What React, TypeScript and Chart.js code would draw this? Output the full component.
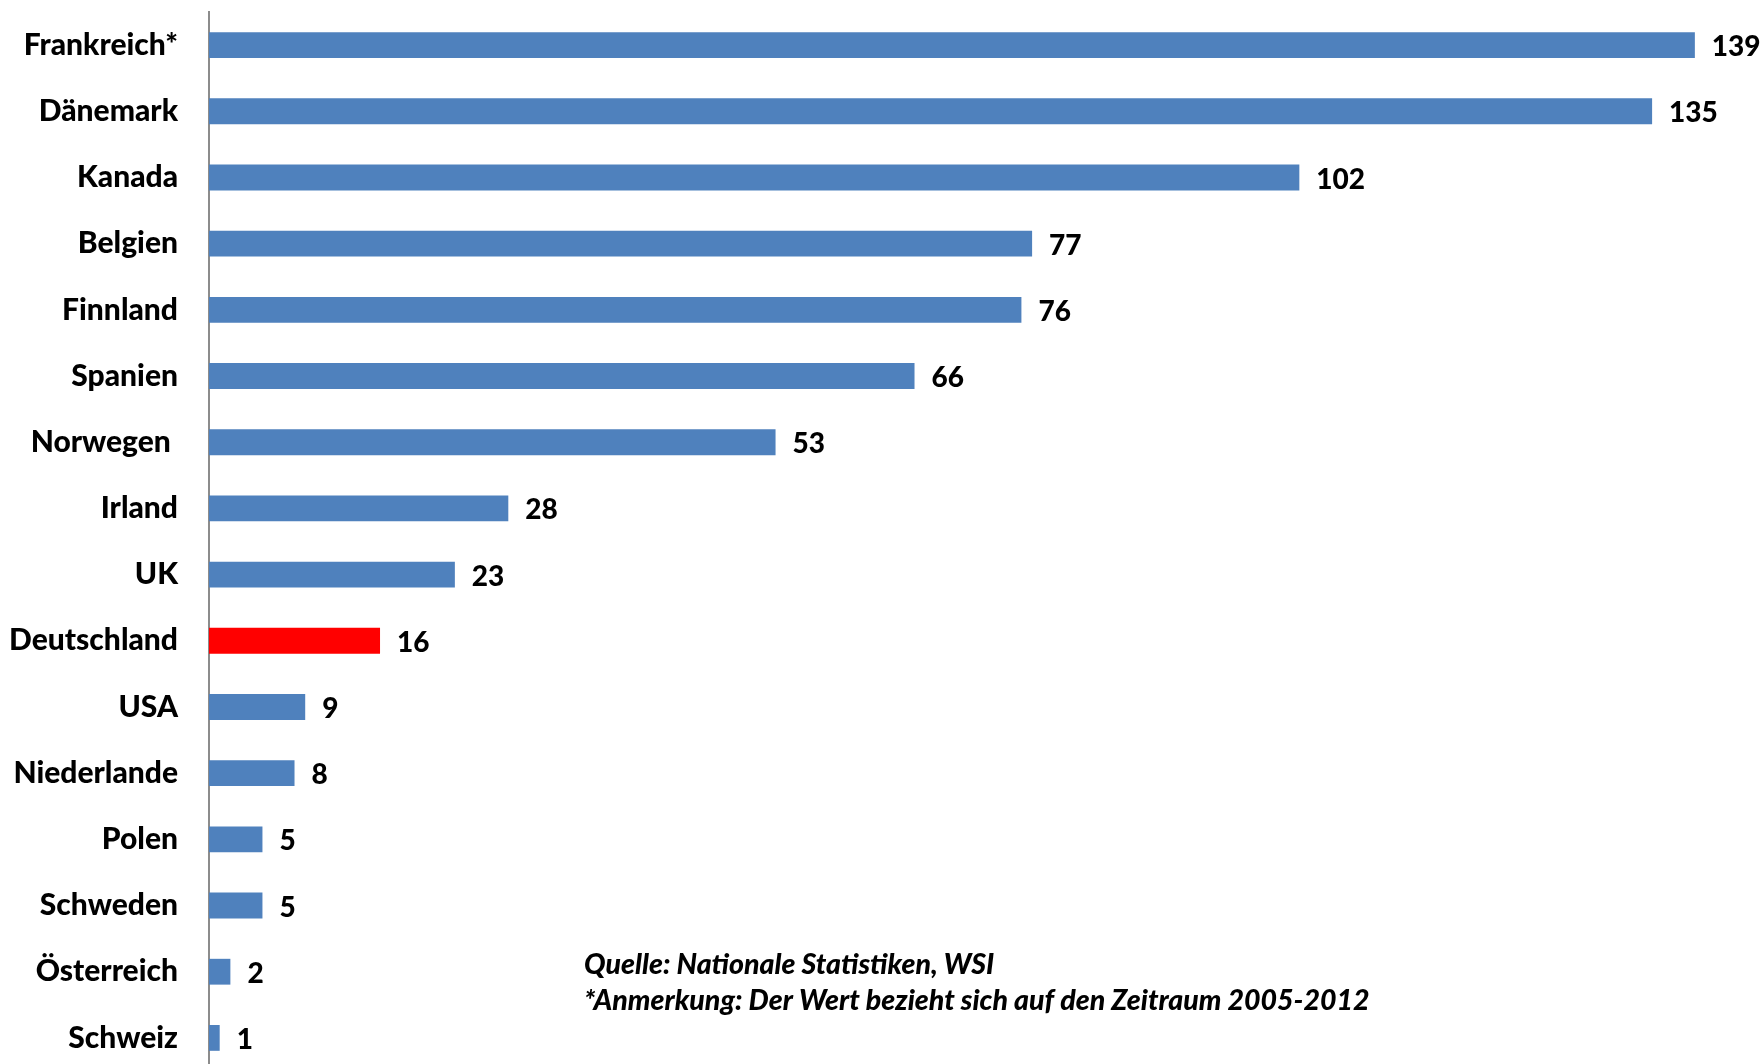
import React, { useEffect, useRef } from "react";
import { Chart, registerables } from "chart.js";

Chart.register(...registerables);

const categories: string[] = [
  "Frankreich*", "Dänemark", "Kanada", "Belgien", "Finnland", "Spanien", "Norwegen ",
  "Irland", "UK", "Deutschland", "USA", "Niederlande", "Polen", "Schweden", "Österreich", "Schweiz",
];
const values: number[] = [139, 135, 102, 77, 76, 66, 53, 28, 23, 16, 9, 8, 5, 5, 2, 1];
const highlight = "Deutschland";
const noteLines: string[] = [
  "Quelle: Nationale Statistiken, WSI",
  "*Anmerkung: Der Wert bezieht sich auf den Zeitraum 2005-2012",
];

const FONT = "Lato, 'Open Sans', sans-serif";

const textLabels = {
  id: "textLabels",
  afterDatasetsDraw(chart: any) {
    const ctx = chart.ctx;
    const meta = chart.getDatasetMeta(0);
    const yScale = chart.scales.y;
    ctx.save();
    ctx.fillStyle = "#000";
    ctx.textBaseline = "middle";
    // category labels
    ctx.font = `900 30px ${FONT}`;
    ctx.textAlign = "right";
    categories.forEach((c, i) => {
      ctx.fillText(c, yScale.right - 31, yScale.getPixelForValue(i));
    });
    // value labels
    ctx.font = `900 28px ${FONT}`;
    ctx.textAlign = "left";
    meta.data.forEach((bar: any, i: number) => {
      ctx.fillText(String(values[i]), bar.x + 17, bar.y + 2);
    });
    ctx.restore();
  },
};

const footnote = {
  id: "footnote",
  afterDraw(chart: any) {
    const ctx = chart.ctx;
    ctx.save();
    ctx.font = `italic 900 28.5px ${FONT}`;
    ctx.fillStyle = "#000";
    ctx.textAlign = "left";
    ctx.textBaseline = "middle";
    ctx.fillText(noteLines[0], 584, 965);
    ctx.fillText(noteLines[1], 584, 1001);
    ctx.restore();
  },
};

export default function App() {
  const ref = useRef<HTMLCanvasElement>(null);
  useEffect(() => {
    if (!ref.current) return;
    const chart = new Chart(ref.current, {
      type: "bar",
      data: {
        labels: categories,
        datasets: [
          {
            data: values,
            backgroundColor: categories.map((c) => (c === highlight ? "#FF0000" : "#4F81BD")),
            borderWidth: 0,
            barPercentage: 0.39,
            categoryPercentage: 1,
          },
        ],
      },
      options: {
        indexAxis: "y",
        responsive: false,
        animation: false,
        devicePixelRatio: 1,
        layout: { padding: { top: 12, right: 5, bottom: 0, left: 0 } },
        plugins: {
          legend: { display: false },
          tooltip: { enabled: false },
        },
        scales: {
          x: { display: false, min: 0, max: 145 },
          y: {
            grid: { display: false, drawTicks: false },
            border: { display: true, color: "#8c8c8c", width: 2 },
            ticks: { display: false },
            afterFit(scale: any) {
              scale.width = 209;
            },
          },
        },
      },
      plugins: [textLabels, footnote],
    } as any);
    return () => chart.destroy();
  }, []);
  return (
    <div
      style={{
        position: "fixed",
        left: 0,
        top: 0,
        width: 1764,
        height: 1064,
        overflow: "hidden",
        background: "#fff",
      }}
    >
      <canvas ref={ref} width={1764} height={1071} style={{ display: "block" }} />
    </div>
  );
}
